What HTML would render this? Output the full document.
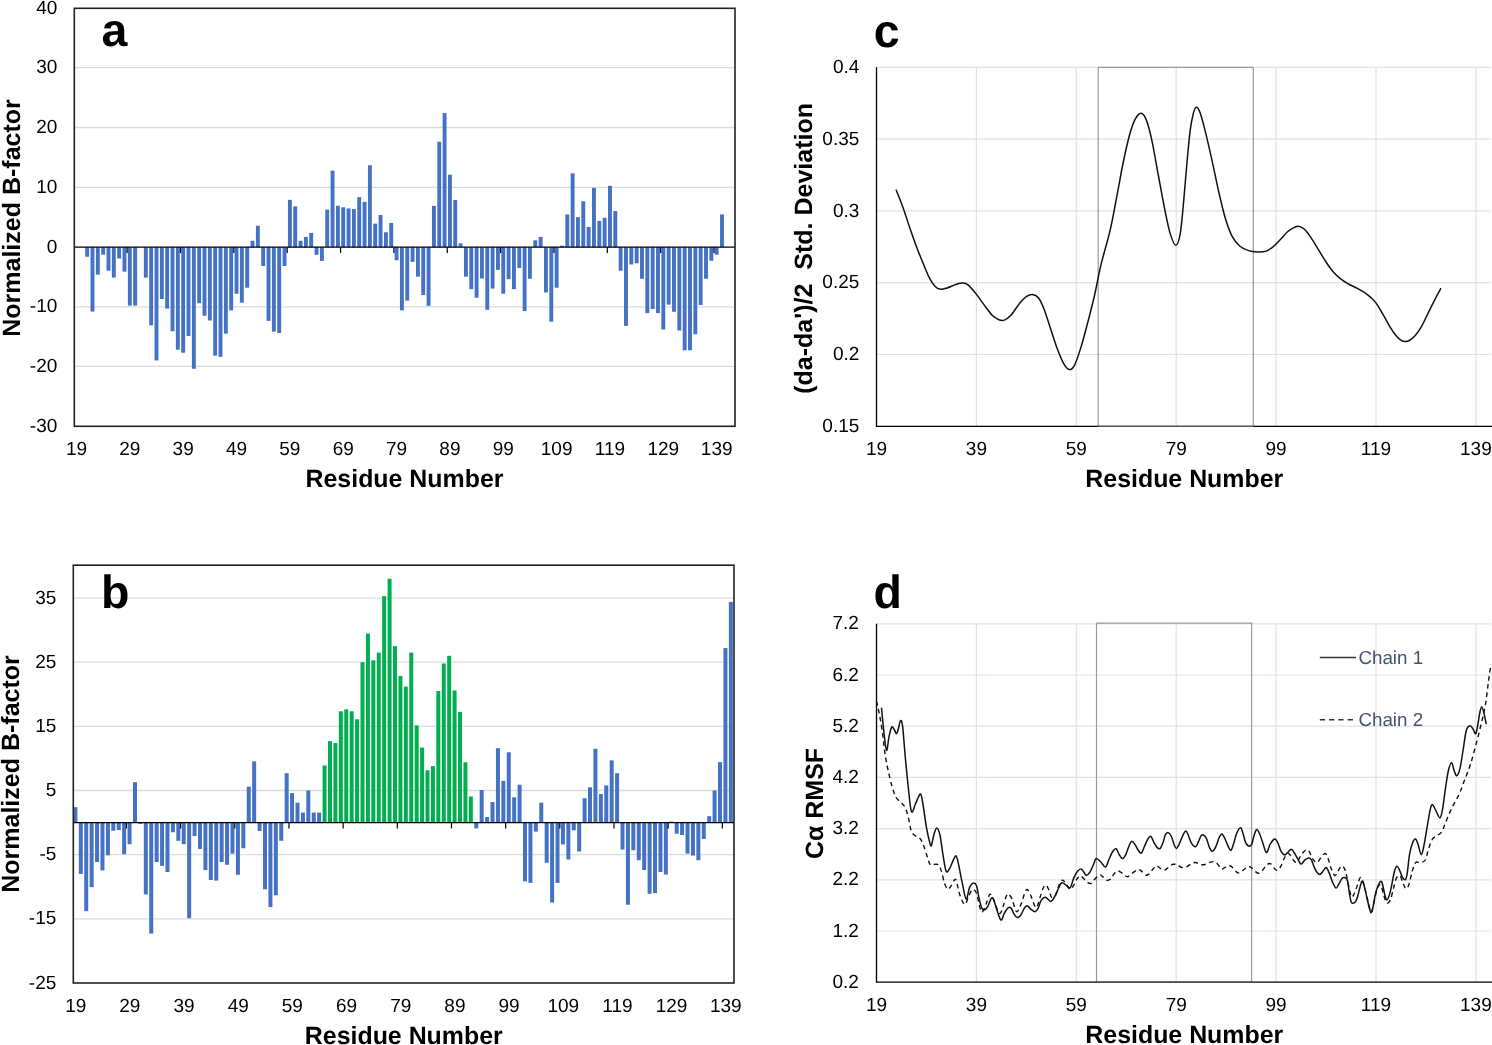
<!DOCTYPE html>
<html><head><meta charset="utf-8"><title>Figure</title>
<style>
html,body{margin:0;padding:0;background:#fff;}
body{width:1492px;height:1045px;overflow:hidden;font-family:'Liberation Sans', sans-serif;}
svg{display:block;will-change:transform;-webkit-font-smoothing:antialiased;text-rendering:geometricPrecision;font-family:'Liberation Sans', sans-serif;}
</style></head><body>
<svg width="1492" height="1045" viewBox="0 0 1492 1045">
<rect x="0" y="0" width="1492" height="1045" fill="#fff"/>
<line x1="74.3" y1="67.7" x2="735" y2="67.7" stroke="#DCDCDC" stroke-width="1.3"/>
<line x1="74.3" y1="127.5" x2="735" y2="127.5" stroke="#DCDCDC" stroke-width="1.3"/>
<line x1="74.3" y1="187.4" x2="735" y2="187.4" stroke="#DCDCDC" stroke-width="1.3"/>
<line x1="74.3" y1="306.8" x2="735" y2="306.8" stroke="#DCDCDC" stroke-width="1.3"/>
<line x1="74.3" y1="366.4" x2="735" y2="366.4" stroke="#DCDCDC" stroke-width="1.3"/>
<rect x="85.19" y="247.2" width="3.9" height="9.54" fill="#4472C4"/>
<rect x="90.52" y="247.2" width="3.9" height="64.37" fill="#4472C4"/>
<rect x="95.86" y="247.2" width="3.9" height="27.42" fill="#4472C4"/>
<rect x="101.19" y="247.2" width="3.9" height="7.45" fill="#4472C4"/>
<rect x="106.53" y="247.2" width="3.9" height="23.54" fill="#4472C4"/>
<rect x="111.86" y="247.2" width="3.9" height="30.4" fill="#4472C4"/>
<rect x="117.2" y="247.2" width="3.9" height="11.32" fill="#4472C4"/>
<rect x="122.53" y="247.2" width="3.9" height="24.44" fill="#4472C4"/>
<rect x="127.87" y="247.2" width="3.9" height="58.41" fill="#4472C4"/>
<rect x="133.2" y="247.2" width="3.9" height="58.41" fill="#4472C4"/>
<rect x="143.87" y="247.2" width="3.9" height="30.4" fill="#4472C4"/>
<rect x="149.21" y="247.2" width="3.9" height="78.08" fill="#4472C4"/>
<rect x="154.54" y="247.2" width="3.9" height="113.24" fill="#4472C4"/>
<rect x="159.88" y="247.2" width="3.9" height="51.85" fill="#4472C4"/>
<rect x="165.21" y="247.2" width="3.9" height="61.39" fill="#4472C4"/>
<rect x="170.55" y="247.2" width="3.9" height="84.04" fill="#4472C4"/>
<rect x="175.88" y="247.2" width="3.9" height="102.51" fill="#4472C4"/>
<rect x="181.22" y="247.2" width="3.9" height="105.49" fill="#4472C4"/>
<rect x="186.55" y="247.2" width="3.9" height="88.8" fill="#4472C4"/>
<rect x="191.89" y="247.2" width="3.9" height="121.58" fill="#4472C4"/>
<rect x="197.22" y="247.2" width="3.9" height="56.02" fill="#4472C4"/>
<rect x="202.56" y="247.2" width="3.9" height="68.54" fill="#4472C4"/>
<rect x="207.89" y="247.2" width="3.9" height="73.31" fill="#4472C4"/>
<rect x="213.23" y="247.2" width="3.9" height="108.47" fill="#4472C4"/>
<rect x="218.56" y="247.2" width="3.9" height="109.66" fill="#4472C4"/>
<rect x="223.9" y="247.2" width="3.9" height="86.42" fill="#4472C4"/>
<rect x="229.23" y="247.2" width="3.9" height="63.18" fill="#4472C4"/>
<rect x="234.57" y="247.2" width="3.9" height="46.49" fill="#4472C4"/>
<rect x="239.9" y="247.2" width="3.9" height="55.43" fill="#4472C4"/>
<rect x="245.24" y="247.2" width="3.9" height="40.53" fill="#4472C4"/>
<rect x="250.57" y="240.76" width="3.9" height="6.44" fill="#4472C4"/>
<rect x="255.91" y="225.74" width="3.9" height="21.46" fill="#4472C4"/>
<rect x="261.24" y="247.2" width="3.9" height="18.77" fill="#4472C4"/>
<rect x="266.58" y="247.2" width="3.9" height="73.67" fill="#4472C4"/>
<rect x="271.91" y="247.2" width="3.9" height="84.45" fill="#4472C4"/>
<rect x="277.25" y="247.2" width="3.9" height="85.82" fill="#4472C4"/>
<rect x="282.58" y="247.2" width="3.9" height="18.77" fill="#4472C4"/>
<rect x="287.92" y="199.82" width="3.9" height="47.38" fill="#4472C4"/>
<rect x="293.25" y="206.37" width="3.9" height="40.83" fill="#4472C4"/>
<rect x="298.59" y="240.76" width="3.9" height="6.44" fill="#4472C4"/>
<rect x="303.92" y="236.89" width="3.9" height="10.31" fill="#4472C4"/>
<rect x="309.26" y="232.9" width="3.9" height="14.3" fill="#4472C4"/>
<rect x="314.59" y="247.2" width="3.9" height="7.63" fill="#4472C4"/>
<rect x="319.93" y="247.2" width="3.9" height="13.71" fill="#4472C4"/>
<rect x="325.26" y="209.65" width="3.9" height="37.55" fill="#4472C4"/>
<rect x="330.6" y="170.61" width="3.9" height="76.59" fill="#4472C4"/>
<rect x="335.93" y="205.72" width="3.9" height="41.48" fill="#4472C4"/>
<rect x="341.27" y="207.27" width="3.9" height="39.93" fill="#4472C4"/>
<rect x="346.6" y="208.46" width="3.9" height="38.74" fill="#4472C4"/>
<rect x="351.94" y="209.06" width="3.9" height="38.14" fill="#4472C4"/>
<rect x="357.27" y="197.14" width="3.9" height="50.06" fill="#4472C4"/>
<rect x="362.61" y="201.9" width="3.9" height="45.3" fill="#4472C4"/>
<rect x="367.94" y="165.25" width="3.9" height="81.95" fill="#4472C4"/>
<rect x="373.28" y="223.66" width="3.9" height="23.54" fill="#4472C4"/>
<rect x="378.61" y="215.02" width="3.9" height="32.18" fill="#4472C4"/>
<rect x="383.95" y="232.3" width="3.9" height="14.9" fill="#4472C4"/>
<rect x="389.28" y="222.94" width="3.9" height="24.26" fill="#4472C4"/>
<rect x="394.62" y="247.2" width="3.9" height="13.11" fill="#4472C4"/>
<rect x="399.95" y="247.2" width="3.9" height="63.18" fill="#4472C4"/>
<rect x="405.29" y="247.2" width="3.9" height="53.4" fill="#4472C4"/>
<rect x="410.62" y="247.2" width="3.9" height="14.66" fill="#4472C4"/>
<rect x="415.96" y="247.2" width="3.9" height="29.44" fill="#4472C4"/>
<rect x="421.29" y="247.2" width="3.9" height="47.8" fill="#4472C4"/>
<rect x="426.63" y="247.2" width="3.9" height="58.59" fill="#4472C4"/>
<rect x="431.96" y="205.84" width="3.9" height="41.36" fill="#4472C4"/>
<rect x="437.3" y="141.71" width="3.9" height="105.49" fill="#4472C4"/>
<rect x="442.63" y="113.1" width="3.9" height="134.1" fill="#4472C4"/>
<rect x="447.97" y="174.67" width="3.9" height="72.53" fill="#4472C4"/>
<rect x="453.3" y="199.94" width="3.9" height="47.26" fill="#4472C4"/>
<rect x="458.64" y="243.33" width="3.9" height="3.87" fill="#4472C4"/>
<rect x="463.97" y="247.2" width="3.9" height="29.44" fill="#4472C4"/>
<rect x="469.31" y="247.2" width="3.9" height="41.96" fill="#4472C4"/>
<rect x="474.64" y="247.2" width="3.9" height="50.54" fill="#4472C4"/>
<rect x="479.98" y="247.2" width="3.9" height="31.29" fill="#4472C4"/>
<rect x="485.31" y="247.2" width="3.9" height="62.58" fill="#4472C4"/>
<rect x="490.65" y="247.2" width="3.9" height="41.36" fill="#4472C4"/>
<rect x="495.98" y="247.2" width="3.9" height="22.65" fill="#4472C4"/>
<rect x="501.32" y="247.2" width="3.9" height="46.49" fill="#4472C4"/>
<rect x="506.65" y="247.2" width="3.9" height="32.01" fill="#4472C4"/>
<rect x="511.99" y="247.2" width="3.9" height="41.96" fill="#4472C4"/>
<rect x="517.32" y="247.2" width="3.9" height="20.86" fill="#4472C4"/>
<rect x="522.66" y="247.2" width="3.9" height="63.77" fill="#4472C4"/>
<rect x="527.99" y="247.2" width="3.9" height="31.59" fill="#4472C4"/>
<rect x="533.33" y="240.29" width="3.9" height="6.91" fill="#4472C4"/>
<rect x="538.66" y="236.89" width="3.9" height="10.31" fill="#4472C4"/>
<rect x="544" y="247.2" width="3.9" height="45.3" fill="#4472C4"/>
<rect x="549.33" y="247.2" width="3.9" height="74.5" fill="#4472C4"/>
<rect x="554.67" y="247.2" width="3.9" height="40.53" fill="#4472C4"/>
<rect x="560" y="245.71" width="3.9" height="1.49" fill="#4472C4"/>
<rect x="565.34" y="214.42" width="3.9" height="32.78" fill="#4472C4"/>
<rect x="570.67" y="173.3" width="3.9" height="73.9" fill="#4472C4"/>
<rect x="576.01" y="217.16" width="3.9" height="30.04" fill="#4472C4"/>
<rect x="581.34" y="201.31" width="3.9" height="45.89" fill="#4472C4"/>
<rect x="586.68" y="226.94" width="3.9" height="20.26" fill="#4472C4"/>
<rect x="592.01" y="187.9" width="3.9" height="59.3" fill="#4472C4"/>
<rect x="597.35" y="220.98" width="3.9" height="26.22" fill="#4472C4"/>
<rect x="602.68" y="217.76" width="3.9" height="29.44" fill="#4472C4"/>
<rect x="608.02" y="185.81" width="3.9" height="61.39" fill="#4472C4"/>
<rect x="613.35" y="211.02" width="3.9" height="36.18" fill="#4472C4"/>
<rect x="618.69" y="247.2" width="3.9" height="23.54" fill="#4472C4"/>
<rect x="624.02" y="247.2" width="3.9" height="78.67" fill="#4472C4"/>
<rect x="629.36" y="247.2" width="3.9" height="17.28" fill="#4472C4"/>
<rect x="634.69" y="247.2" width="3.9" height="16.09" fill="#4472C4"/>
<rect x="640.03" y="247.2" width="3.9" height="31.59" fill="#4472C4"/>
<rect x="645.36" y="247.2" width="3.9" height="65.92" fill="#4472C4"/>
<rect x="650.7" y="247.2" width="3.9" height="61.75" fill="#4472C4"/>
<rect x="656.03" y="247.2" width="3.9" height="65.92" fill="#4472C4"/>
<rect x="661.37" y="247.2" width="3.9" height="82.25" fill="#4472C4"/>
<rect x="666.7" y="247.2" width="3.9" height="57.45" fill="#4472C4"/>
<rect x="672.04" y="247.2" width="3.9" height="64.61" fill="#4472C4"/>
<rect x="677.37" y="247.2" width="3.9" height="83.32" fill="#4472C4"/>
<rect x="682.71" y="247.2" width="3.9" height="103.11" fill="#4472C4"/>
<rect x="688.04" y="247.2" width="3.9" height="103.11" fill="#4472C4"/>
<rect x="693.38" y="247.2" width="3.9" height="87.02" fill="#4472C4"/>
<rect x="698.71" y="247.2" width="3.9" height="57.81" fill="#4472C4"/>
<rect x="704.05" y="247.2" width="3.9" height="31.59" fill="#4472C4"/>
<rect x="709.38" y="247.2" width="3.9" height="13.53" fill="#4472C4"/>
<rect x="714.72" y="247.2" width="3.9" height="7.45" fill="#4472C4"/>
<rect x="720.05" y="214.42" width="3.9" height="32.78" fill="#4472C4"/>
<line x1="74.3" y1="247.2" x2="735" y2="247.2" stroke="#000" stroke-width="1.3"/>
<line x1="127.15" y1="247.2" x2="127.15" y2="253" stroke="#000" stroke-width="1.2"/>
<line x1="180.5" y1="247.2" x2="180.5" y2="253" stroke="#000" stroke-width="1.2"/>
<line x1="233.85" y1="247.2" x2="233.85" y2="253" stroke="#000" stroke-width="1.2"/>
<line x1="287.2" y1="247.2" x2="287.2" y2="253" stroke="#000" stroke-width="1.2"/>
<line x1="340.55" y1="247.2" x2="340.55" y2="253" stroke="#000" stroke-width="1.2"/>
<line x1="393.9" y1="247.2" x2="393.9" y2="253" stroke="#000" stroke-width="1.2"/>
<line x1="447.25" y1="247.2" x2="447.25" y2="253" stroke="#000" stroke-width="1.2"/>
<line x1="500.6" y1="247.2" x2="500.6" y2="253" stroke="#000" stroke-width="1.2"/>
<line x1="553.95" y1="247.2" x2="553.95" y2="253" stroke="#000" stroke-width="1.2"/>
<line x1="607.3" y1="247.2" x2="607.3" y2="253" stroke="#000" stroke-width="1.2"/>
<line x1="660.65" y1="247.2" x2="660.65" y2="253" stroke="#000" stroke-width="1.2"/>
<line x1="714" y1="247.2" x2="714" y2="253" stroke="#000" stroke-width="1.2"/>
<rect x="74.3" y="8.3" width="660.7" height="418" fill="none" stroke="#222" stroke-width="1.6"/>
<text x="57.3" y="13.9" font-size="19" text-anchor="end" font-weight="normal" fill="#000" >40</text>
<text x="57.3" y="73.3" font-size="19" text-anchor="end" font-weight="normal" fill="#000" >30</text>
<text x="57.3" y="133.1" font-size="19" text-anchor="end" font-weight="normal" fill="#000" >20</text>
<text x="57.3" y="193" font-size="19" text-anchor="end" font-weight="normal" fill="#000" >10</text>
<text x="57.3" y="252.8" font-size="19" text-anchor="end" font-weight="normal" fill="#000" >0</text>
<text x="57.3" y="312.4" font-size="19" text-anchor="end" font-weight="normal" fill="#000" >-10</text>
<text x="57.3" y="372" font-size="19" text-anchor="end" font-weight="normal" fill="#000" >-20</text>
<text x="57.3" y="431.9" font-size="19" text-anchor="end" font-weight="normal" fill="#000" >-30</text>
<text x="76.47" y="454.8" font-size="19" text-anchor="middle" font-weight="normal" fill="#000" >19</text>
<text x="129.82" y="454.8" font-size="19" text-anchor="middle" font-weight="normal" fill="#000" >29</text>
<text x="183.17" y="454.8" font-size="19" text-anchor="middle" font-weight="normal" fill="#000" >39</text>
<text x="236.52" y="454.8" font-size="19" text-anchor="middle" font-weight="normal" fill="#000" >49</text>
<text x="289.87" y="454.8" font-size="19" text-anchor="middle" font-weight="normal" fill="#000" >59</text>
<text x="343.22" y="454.8" font-size="19" text-anchor="middle" font-weight="normal" fill="#000" >69</text>
<text x="396.57" y="454.8" font-size="19" text-anchor="middle" font-weight="normal" fill="#000" >79</text>
<text x="449.92" y="454.8" font-size="19" text-anchor="middle" font-weight="normal" fill="#000" >89</text>
<text x="503.27" y="454.8" font-size="19" text-anchor="middle" font-weight="normal" fill="#000" >99</text>
<text x="556.62" y="454.8" font-size="19" text-anchor="middle" font-weight="normal" fill="#000" >109</text>
<text x="609.97" y="454.8" font-size="19" text-anchor="middle" font-weight="normal" fill="#000" >119</text>
<text x="663.32" y="454.8" font-size="19" text-anchor="middle" font-weight="normal" fill="#000" >129</text>
<text x="716.67" y="454.8" font-size="19" text-anchor="middle" font-weight="normal" fill="#000" >139</text>
<text x="404.5" y="486.6" font-size="24.92" text-anchor="middle" font-weight="bold" fill="#000" >Residue Number</text>
<text transform="translate(20.4,218) rotate(-90)" font-size="25.0" text-anchor="middle" font-weight="bold" xml:space="preserve" style="white-space:pre">Normalized B-factor</text>
<text x="101.5" y="46" font-size="46.5" text-anchor="start" font-weight="bold" fill="#000" >a</text>
<line x1="73.3" y1="598.04" x2="734" y2="598.04" stroke="#DCDCDC" stroke-width="1.3"/>
<line x1="73.3" y1="662.2" x2="734" y2="662.2" stroke="#DCDCDC" stroke-width="1.3"/>
<line x1="73.3" y1="726.36" x2="734" y2="726.36" stroke="#DCDCDC" stroke-width="1.3"/>
<line x1="73.3" y1="790.52" x2="734" y2="790.52" stroke="#DCDCDC" stroke-width="1.3"/>
<line x1="73.3" y1="854.68" x2="734" y2="854.68" stroke="#DCDCDC" stroke-width="1.3"/>
<line x1="73.3" y1="918.84" x2="734" y2="918.84" stroke="#DCDCDC" stroke-width="1.3"/>
<rect x="73.4" y="807.2" width="4" height="15.4" fill="#4472C4"/>
<rect x="78.82" y="822.6" width="4" height="51.33" fill="#4472C4"/>
<rect x="84.23" y="822.6" width="4" height="88.54" fill="#4472C4"/>
<rect x="89.65" y="822.6" width="4" height="64.54" fill="#4472C4"/>
<rect x="95.07" y="822.6" width="4" height="39.46" fill="#4472C4"/>
<rect x="100.49" y="822.6" width="4" height="47.8" fill="#4472C4"/>
<rect x="105.9" y="822.6" width="4" height="32.72" fill="#4472C4"/>
<rect x="111.32" y="822.6" width="4" height="8.15" fill="#4472C4"/>
<rect x="116.74" y="822.6" width="4" height="7.44" fill="#4472C4"/>
<rect x="122.15" y="822.6" width="4" height="31.63" fill="#4472C4"/>
<rect x="127.57" y="822.6" width="4" height="21.62" fill="#4472C4"/>
<rect x="132.99" y="782.18" width="4" height="40.42" fill="#4472C4"/>
<rect x="138.4" y="822.6" width="4" height="1.28" fill="#4472C4"/>
<rect x="143.82" y="822.6" width="4" height="71.86" fill="#4472C4"/>
<rect x="149.24" y="822.6" width="4" height="111" fill="#4472C4"/>
<rect x="154.66" y="822.6" width="4" height="39.46" fill="#4472C4"/>
<rect x="160.07" y="822.6" width="4" height="43.24" fill="#4472C4"/>
<rect x="165.49" y="822.6" width="4" height="49.4" fill="#4472C4"/>
<rect x="170.91" y="822.6" width="4" height="9.62" fill="#4472C4"/>
<rect x="176.32" y="822.6" width="4" height="18.16" fill="#4472C4"/>
<rect x="181.74" y="822.6" width="4" height="21.62" fill="#4472C4"/>
<rect x="187.16" y="822.6" width="4" height="95.6" fill="#4472C4"/>
<rect x="192.57" y="822.6" width="4" height="13.47" fill="#4472C4"/>
<rect x="197.99" y="822.6" width="4" height="26.31" fill="#4472C4"/>
<rect x="203.41" y="822.6" width="4" height="47.48" fill="#4472C4"/>
<rect x="208.82" y="822.6" width="4" height="57.42" fill="#4472C4"/>
<rect x="214.24" y="822.6" width="4" height="58" fill="#4472C4"/>
<rect x="219.66" y="822.6" width="4" height="39.46" fill="#4472C4"/>
<rect x="225.08" y="822.6" width="4" height="42.15" fill="#4472C4"/>
<rect x="230.49" y="822.6" width="4" height="31.05" fill="#4472C4"/>
<rect x="235.91" y="822.6" width="4" height="52.16" fill="#4472C4"/>
<rect x="241.33" y="822.6" width="4" height="25.66" fill="#4472C4"/>
<rect x="246.74" y="786.67" width="4" height="35.93" fill="#4472C4"/>
<rect x="252.16" y="761.33" width="4" height="61.27" fill="#4472C4"/>
<rect x="257.58" y="822.6" width="4" height="8.34" fill="#4472C4"/>
<rect x="263" y="822.6" width="4" height="66.73" fill="#4472C4"/>
<rect x="268.41" y="822.6" width="4" height="84.5" fill="#4472C4"/>
<rect x="273.83" y="822.6" width="4" height="72.69" fill="#4472C4"/>
<rect x="279.25" y="822.6" width="4" height="18.16" fill="#4472C4"/>
<rect x="284.66" y="773.2" width="4" height="49.4" fill="#4472C4"/>
<rect x="290.08" y="793.09" width="4" height="29.51" fill="#4472C4"/>
<rect x="295.5" y="802.71" width="4" height="19.89" fill="#4472C4"/>
<rect x="300.91" y="812.59" width="4" height="10.01" fill="#4472C4"/>
<rect x="306.33" y="790.52" width="4" height="32.08" fill="#4472C4"/>
<rect x="311.75" y="812.59" width="4" height="10.01" fill="#4472C4"/>
<rect x="317.16" y="812.59" width="4" height="10.01" fill="#4472C4"/>
<rect x="322.58" y="765.5" width="4" height="57.1" fill="#00B050"/>
<rect x="328" y="741.12" width="4" height="81.48" fill="#00B050"/>
<rect x="333.42" y="743.04" width="4" height="79.56" fill="#00B050"/>
<rect x="338.83" y="711.28" width="4" height="111.32" fill="#00B050"/>
<rect x="344.25" y="709.36" width="4" height="113.24" fill="#00B050"/>
<rect x="349.67" y="711.28" width="4" height="111.32" fill="#00B050"/>
<rect x="355.08" y="719.3" width="4" height="103.3" fill="#00B050"/>
<rect x="360.5" y="662.2" width="4" height="160.4" fill="#00B050"/>
<rect x="365.92" y="633.65" width="4" height="188.95" fill="#00B050"/>
<rect x="371.34" y="660.28" width="4" height="162.32" fill="#00B050"/>
<rect x="376.75" y="652.58" width="4" height="170.02" fill="#00B050"/>
<rect x="382.17" y="596.12" width="4" height="226.48" fill="#00B050"/>
<rect x="387.59" y="578.79" width="4" height="243.81" fill="#00B050"/>
<rect x="393" y="646.16" width="4" height="176.44" fill="#00B050"/>
<rect x="398.42" y="675.99" width="4" height="146.61" fill="#00B050"/>
<rect x="403.84" y="686.58" width="4" height="136.02" fill="#00B050"/>
<rect x="409.25" y="652.58" width="4" height="170.02" fill="#00B050"/>
<rect x="414.67" y="725.4" width="4" height="97.2" fill="#00B050"/>
<rect x="420.09" y="747.53" width="4" height="75.07" fill="#00B050"/>
<rect x="425.5" y="770.31" width="4" height="52.29" fill="#00B050"/>
<rect x="430.92" y="766.14" width="4" height="56.46" fill="#00B050"/>
<rect x="436.34" y="691.07" width="4" height="131.53" fill="#00B050"/>
<rect x="441.76" y="663.48" width="4" height="159.12" fill="#00B050"/>
<rect x="447.17" y="655.78" width="4" height="166.82" fill="#00B050"/>
<rect x="452.59" y="690.43" width="4" height="132.17" fill="#00B050"/>
<rect x="458.01" y="711.92" width="4" height="110.68" fill="#00B050"/>
<rect x="463.42" y="762.29" width="4" height="60.31" fill="#00B050"/>
<rect x="468.84" y="796.49" width="4" height="26.11" fill="#00B050"/>
<rect x="474.26" y="822.6" width="4" height="5.77" fill="#4472C4"/>
<rect x="479.67" y="790.01" width="4" height="32.59" fill="#4472C4"/>
<rect x="485.09" y="817.02" width="4" height="5.58" fill="#4472C4"/>
<rect x="490.51" y="802.07" width="4" height="20.53" fill="#4472C4"/>
<rect x="495.93" y="748.17" width="4" height="74.43" fill="#4472C4"/>
<rect x="501.34" y="780.9" width="4" height="41.7" fill="#4472C4"/>
<rect x="506.76" y="752.28" width="4" height="70.32" fill="#4472C4"/>
<rect x="512.18" y="797.32" width="4" height="25.28" fill="#4472C4"/>
<rect x="517.59" y="784.75" width="4" height="37.85" fill="#4472C4"/>
<rect x="523.01" y="822.6" width="4" height="58.71" fill="#4472C4"/>
<rect x="528.43" y="822.6" width="4" height="60.31" fill="#4472C4"/>
<rect x="533.85" y="822.6" width="4" height="8.98" fill="#4472C4"/>
<rect x="539.26" y="802.71" width="4" height="19.89" fill="#4472C4"/>
<rect x="544.68" y="822.6" width="4" height="40.16" fill="#4472C4"/>
<rect x="550.1" y="822.6" width="4" height="79.94" fill="#4472C4"/>
<rect x="555.51" y="822.6" width="4" height="60.31" fill="#4472C4"/>
<rect x="560.93" y="822.6" width="4" height="21.81" fill="#4472C4"/>
<rect x="566.35" y="822.6" width="4" height="36.89" fill="#4472C4"/>
<rect x="571.76" y="822.6" width="4" height="7.7" fill="#4472C4"/>
<rect x="577.18" y="822.6" width="4" height="28.87" fill="#4472C4"/>
<rect x="582.6" y="798.22" width="4" height="24.38" fill="#4472C4"/>
<rect x="588.01" y="787.31" width="4" height="35.29" fill="#4472C4"/>
<rect x="593.43" y="748.82" width="4" height="73.78" fill="#4472C4"/>
<rect x="598.85" y="794.05" width="4" height="28.55" fill="#4472C4"/>
<rect x="604.27" y="785.39" width="4" height="37.21" fill="#4472C4"/>
<rect x="609.68" y="760.36" width="4" height="62.24" fill="#4472C4"/>
<rect x="615.1" y="773.2" width="4" height="49.4" fill="#4472C4"/>
<rect x="620.52" y="822.6" width="4" height="26.95" fill="#4472C4"/>
<rect x="625.93" y="822.6" width="4" height="82.12" fill="#4472C4"/>
<rect x="631.35" y="822.6" width="4" height="27.59" fill="#4472C4"/>
<rect x="636.77" y="822.6" width="4" height="37.6" fill="#4472C4"/>
<rect x="642.18" y="822.6" width="4" height="47.48" fill="#4472C4"/>
<rect x="647.6" y="822.6" width="4" height="71.22" fill="#4472C4"/>
<rect x="653.02" y="822.6" width="4" height="70.58" fill="#4472C4"/>
<rect x="658.44" y="822.6" width="4" height="49.4" fill="#4472C4"/>
<rect x="663.85" y="822.6" width="4" height="51.97" fill="#4472C4"/>
<rect x="669.27" y="821.64" width="4" height="0.96" fill="#4472C4"/>
<rect x="674.69" y="822.6" width="4" height="11.1" fill="#4472C4"/>
<rect x="680.1" y="822.6" width="4" height="12.38" fill="#4472C4"/>
<rect x="685.52" y="822.6" width="4" height="31.05" fill="#4472C4"/>
<rect x="690.94" y="822.6" width="4" height="32.91" fill="#4472C4"/>
<rect x="696.35" y="822.6" width="4" height="37.6" fill="#4472C4"/>
<rect x="701.77" y="822.6" width="4" height="16.36" fill="#4472C4"/>
<rect x="707.19" y="816.18" width="4" height="6.42" fill="#4472C4"/>
<rect x="712.61" y="790.52" width="4" height="32.08" fill="#4472C4"/>
<rect x="718.02" y="762.1" width="4" height="60.5" fill="#4472C4"/>
<rect x="723.44" y="648.08" width="4" height="174.52" fill="#4472C4"/>
<rect x="728.86" y="601.89" width="4" height="220.71" fill="#4472C4"/>
<line x1="73.3" y1="822.6" x2="734" y2="822.6" stroke="#000" stroke-width="1.3"/>
<line x1="126.46" y1="822.6" x2="126.46" y2="828.4" stroke="#000" stroke-width="1.2"/>
<line x1="180.63" y1="822.6" x2="180.63" y2="828.4" stroke="#000" stroke-width="1.2"/>
<line x1="234.8" y1="822.6" x2="234.8" y2="828.4" stroke="#000" stroke-width="1.2"/>
<line x1="288.97" y1="822.6" x2="288.97" y2="828.4" stroke="#000" stroke-width="1.2"/>
<line x1="343.14" y1="822.6" x2="343.14" y2="828.4" stroke="#000" stroke-width="1.2"/>
<line x1="397.31" y1="822.6" x2="397.31" y2="828.4" stroke="#000" stroke-width="1.2"/>
<line x1="451.48" y1="822.6" x2="451.48" y2="828.4" stroke="#000" stroke-width="1.2"/>
<line x1="505.65" y1="822.6" x2="505.65" y2="828.4" stroke="#000" stroke-width="1.2"/>
<line x1="559.82" y1="822.6" x2="559.82" y2="828.4" stroke="#000" stroke-width="1.2"/>
<line x1="613.99" y1="822.6" x2="613.99" y2="828.4" stroke="#000" stroke-width="1.2"/>
<line x1="668.16" y1="822.6" x2="668.16" y2="828.4" stroke="#000" stroke-width="1.2"/>
<line x1="722.33" y1="822.6" x2="722.33" y2="828.4" stroke="#000" stroke-width="1.2"/>
<rect x="73.3" y="565.2" width="660.7" height="417.8" fill="none" stroke="#222" stroke-width="1.6"/>
<text x="56.3" y="603.64" font-size="19" text-anchor="end" font-weight="normal" fill="#000" >35</text>
<text x="56.3" y="667.8" font-size="19" text-anchor="end" font-weight="normal" fill="#000" >25</text>
<text x="56.3" y="731.96" font-size="19" text-anchor="end" font-weight="normal" fill="#000" >15</text>
<text x="56.3" y="796.12" font-size="19" text-anchor="end" font-weight="normal" fill="#000" >5</text>
<text x="56.3" y="860.28" font-size="19" text-anchor="end" font-weight="normal" fill="#000" >-5</text>
<text x="56.3" y="924.44" font-size="19" text-anchor="end" font-weight="normal" fill="#000" >-15</text>
<text x="56.3" y="988.6" font-size="19" text-anchor="end" font-weight="normal" fill="#000" >-25</text>
<text x="75.7" y="1012" font-size="19" text-anchor="middle" font-weight="normal" fill="#000" >19</text>
<text x="129.87" y="1012" font-size="19" text-anchor="middle" font-weight="normal" fill="#000" >29</text>
<text x="184.04" y="1012" font-size="19" text-anchor="middle" font-weight="normal" fill="#000" >39</text>
<text x="238.21" y="1012" font-size="19" text-anchor="middle" font-weight="normal" fill="#000" >49</text>
<text x="292.38" y="1012" font-size="19" text-anchor="middle" font-weight="normal" fill="#000" >59</text>
<text x="346.55" y="1012" font-size="19" text-anchor="middle" font-weight="normal" fill="#000" >69</text>
<text x="400.72" y="1012" font-size="19" text-anchor="middle" font-weight="normal" fill="#000" >79</text>
<text x="454.89" y="1012" font-size="19" text-anchor="middle" font-weight="normal" fill="#000" >89</text>
<text x="509.06" y="1012" font-size="19" text-anchor="middle" font-weight="normal" fill="#000" >99</text>
<text x="563.23" y="1012" font-size="19" text-anchor="middle" font-weight="normal" fill="#000" >109</text>
<text x="617.4" y="1012" font-size="19" text-anchor="middle" font-weight="normal" fill="#000" >119</text>
<text x="671.57" y="1012" font-size="19" text-anchor="middle" font-weight="normal" fill="#000" >129</text>
<text x="725.74" y="1012" font-size="19" text-anchor="middle" font-weight="normal" fill="#000" >139</text>
<text x="403.8" y="1044" font-size="24.92" text-anchor="middle" font-weight="bold" fill="#000" >Residue Number</text>
<text transform="translate(19,774) rotate(-90)" font-size="25.0" text-anchor="middle" font-weight="bold" xml:space="preserve" style="white-space:pre">Normalized B-factor</text>
<text x="101" y="608.3" font-size="46.5" text-anchor="start" font-weight="bold" fill="#000" >b</text>
<line x1="876.5" y1="67.3" x2="1491" y2="67.3" stroke="#DCE1EC" stroke-width="1.2"/>
<line x1="876.5" y1="139.1" x2="1491" y2="139.1" stroke="#DCE1EC" stroke-width="1.2"/>
<line x1="876.5" y1="210.9" x2="1491" y2="210.9" stroke="#DCE1EC" stroke-width="1.2"/>
<line x1="876.5" y1="282.7" x2="1491" y2="282.7" stroke="#DCE1EC" stroke-width="1.2"/>
<line x1="876.5" y1="354.5" x2="1491" y2="354.5" stroke="#DCE1EC" stroke-width="1.2"/>
<line x1="976.4" y1="67.3" x2="976.4" y2="426.4" stroke="#DCE1EC" stroke-width="1.2"/>
<line x1="1076.3" y1="67.3" x2="1076.3" y2="426.4" stroke="#DCE1EC" stroke-width="1.2"/>
<line x1="1176.2" y1="67.3" x2="1176.2" y2="426.4" stroke="#DCE1EC" stroke-width="1.2"/>
<line x1="1276.1" y1="67.3" x2="1276.1" y2="426.4" stroke="#DCE1EC" stroke-width="1.2"/>
<line x1="1376" y1="67.3" x2="1376" y2="426.4" stroke="#DCE1EC" stroke-width="1.2"/>
<line x1="1475.9" y1="67.3" x2="1475.9" y2="426.4" stroke="#DCE1EC" stroke-width="1.2"/>
<path d="M1098.2,426.4V67.3H1253.3V426.4" fill="none" stroke="#9a9a9a" stroke-width="1.2"/>
<line x1="876.5" y1="67.3" x2="876.5" y2="426.4" stroke="#000" stroke-width="1.3"/>
<line x1="875.9" y1="426.4" x2="1492" y2="426.4" stroke="#000" stroke-width="1.3"/>
<line x1="1097.6" y1="426.4" x2="1253.9" y2="426.4" stroke="#555" stroke-width="1.4"/>
<path d="M896,189.4C897.17,192.4 900.73,201.1 903,207.4C905.27,213.7 907.4,220.78 909.6,227.2C911.8,233.62 914,240.02 916.2,245.9C918.4,251.78 920.6,257.17 922.8,262.5C925,267.83 927.38,273.95 929.4,277.9C931.42,281.85 933.07,284.3 934.9,286.2C936.73,288.1 938.38,289 940.4,289.3C942.42,289.6 944.43,288.8 947,288C949.57,287.2 953.22,285.32 955.8,284.5C958.38,283.68 960.47,283.03 962.5,283.1C964.53,283.17 965.67,283.02 968,284.9C970.33,286.78 973.75,290.98 976.5,294.4C979.25,297.82 981.88,301.92 984.5,305.4C987.12,308.88 989.82,312.92 992.2,315.3C994.58,317.68 996.78,318.9 998.8,319.7C1000.82,320.5 1002.28,320.83 1004.3,320.1C1006.32,319.37 1008.33,318.12 1010.9,315.3C1013.47,312.48 1017.13,306.32 1019.7,303.2C1022.27,300.08 1024.18,298.07 1026.3,296.6C1028.42,295.13 1030.38,294.22 1032.4,294.4C1034.42,294.58 1036.48,295.32 1038.4,297.7C1040.32,300.08 1041.88,303.57 1043.9,308.7C1045.92,313.83 1048.3,321.9 1050.5,328.5C1052.7,335.1 1054.9,342.43 1057.1,348.3C1059.3,354.17 1061.68,360.15 1063.7,363.7C1065.72,367.25 1067.37,369.42 1069.2,369.6C1071.03,369.78 1072.68,368.72 1074.7,364.8C1076.72,360.88 1079.1,353.25 1081.3,346.1C1083.5,338.95 1085.7,330.33 1087.9,321.9C1090.1,313.47 1092.32,305.03 1094.5,295.5C1096.68,285.97 1098.45,275.33 1101,264.7C1103.55,254.07 1107.23,242.7 1109.8,231.7C1112.37,220.7 1114.2,210.07 1116.4,198.7C1118.6,187.33 1120.8,174.15 1123,163.5C1125.2,152.85 1127.58,142.15 1129.6,134.8C1131.62,127.45 1133.18,122.98 1135.1,119.4C1137.02,115.82 1139.27,113.3 1141.1,113.3C1142.93,113.3 1144.35,115.08 1146.1,119.4C1147.85,123.72 1149.58,130.02 1151.6,139.2C1153.62,148.38 1156,162.75 1158.2,174.5C1160.4,186.25 1162.78,199.8 1164.8,209.7C1166.82,219.6 1168.47,227.97 1170.3,233.9C1172.13,239.83 1174.15,245.3 1175.8,245.3C1177.45,245.3 1178.92,240.93 1180.2,233.9C1181.48,226.87 1182.38,214.83 1183.5,203.1C1184.62,191.37 1185.78,175.62 1186.9,163.5C1188.02,151.38 1189.1,138.85 1190.2,130.4C1191.3,121.95 1192.48,116.65 1193.5,112.8C1194.52,108.95 1195.2,107.3 1196.3,107.3C1197.4,107.3 1198.55,108.58 1200.1,112.8C1201.65,117.02 1203.58,124.52 1205.6,132.6C1207.62,140.68 1210,151.38 1212.2,161.3C1214.4,171.22 1216.6,182.57 1218.8,192.1C1221,201.63 1223.2,211.17 1225.4,218.5C1227.6,225.83 1229.62,231.52 1232,236.1C1234.38,240.68 1236.95,243.58 1239.7,246C1242.45,248.42 1245.57,249.62 1248.5,250.6C1251.43,251.58 1254.37,251.82 1257.3,251.9C1260.23,251.98 1263.53,251.9 1266.1,251.1C1268.67,250.3 1270.32,249.05 1272.7,247.1C1275.08,245.15 1277.83,242.03 1280.4,239.4C1282.97,236.77 1285.72,233.32 1288.1,231.3C1290.48,229.28 1292.97,228.13 1294.7,227.3C1296.43,226.47 1297.28,226.25 1298.5,226.3C1299.72,226.35 1300.83,226.93 1302,227.6C1303.17,228.27 1304,228.62 1305.5,230.3C1307,231.98 1308.85,234.48 1311,237.7C1313.15,240.92 1315.95,245.63 1318.4,249.6C1320.85,253.57 1323.25,257.82 1325.7,261.5C1328.15,265.18 1330.65,268.85 1333.1,271.7C1335.55,274.55 1337.95,276.62 1340.4,278.6C1342.85,280.58 1345.03,282 1347.8,283.6C1350.57,285.2 1354.25,286.73 1357,288.2C1359.75,289.67 1362.02,290.87 1364.3,292.4C1366.58,293.93 1368.77,295.65 1370.7,297.4C1372.63,299.15 1373.9,300.15 1375.9,302.9C1377.9,305.65 1380.35,309.92 1382.7,313.9C1385.05,317.88 1387.87,323.28 1390,326.8C1392.13,330.32 1393.82,332.87 1395.5,335C1397.18,337.13 1398.57,338.52 1400.1,339.6C1401.63,340.68 1403.17,341.35 1404.7,341.5C1406.23,341.65 1407.62,341.42 1409.3,340.5C1410.98,339.58 1412.8,338.28 1414.8,336C1416.8,333.72 1419,330.78 1421.3,326.8C1423.6,322.82 1426.15,317 1428.6,312.1C1431.05,307.2 1433.95,301.38 1436,297.4C1438.05,293.42 1440.08,289.73 1440.9,288.2" fill="none" stroke="#111" stroke-width="1.5" stroke-linejoin="round"/>
<text x="859.3" y="72.9" font-size="19" text-anchor="end" font-weight="normal" fill="#000" >0.4</text>
<text x="859.3" y="144.7" font-size="19" text-anchor="end" font-weight="normal" fill="#000" >0.35</text>
<text x="859.3" y="216.5" font-size="19" text-anchor="end" font-weight="normal" fill="#000" >0.3</text>
<text x="859.3" y="288.3" font-size="19" text-anchor="end" font-weight="normal" fill="#000" >0.25</text>
<text x="859.3" y="360.1" font-size="19" text-anchor="end" font-weight="normal" fill="#000" >0.2</text>
<text x="859.3" y="431.9" font-size="19" text-anchor="end" font-weight="normal" fill="#000" >0.15</text>
<text x="876.5" y="454.9" font-size="19" text-anchor="middle" font-weight="normal" fill="#000" >19</text>
<text x="976.4" y="454.9" font-size="19" text-anchor="middle" font-weight="normal" fill="#000" >39</text>
<text x="1076.3" y="454.9" font-size="19" text-anchor="middle" font-weight="normal" fill="#000" >59</text>
<text x="1176.2" y="454.9" font-size="19" text-anchor="middle" font-weight="normal" fill="#000" >79</text>
<text x="1276.1" y="454.9" font-size="19" text-anchor="middle" font-weight="normal" fill="#000" >99</text>
<text x="1376" y="454.9" font-size="19" text-anchor="middle" font-weight="normal" fill="#000" >119</text>
<text x="1475.9" y="454.9" font-size="19" text-anchor="middle" font-weight="normal" fill="#000" >139</text>
<text x="1184.3" y="486.9" font-size="24.92" text-anchor="middle" font-weight="bold" fill="#000" >Residue Number</text>
<text transform="translate(811.9,248.4) rotate(-90)" font-size="25.0" text-anchor="middle" font-weight="bold" xml:space="preserve" style="white-space:pre">(da-da')/2  Std. Deviation</text>
<text x="873.8" y="46.9" font-size="46.5" text-anchor="start" font-weight="bold" fill="#000" >c</text>
<line x1="876.5" y1="623.8" x2="1491" y2="623.8" stroke="#DCE1EC" stroke-width="1.2"/>
<line x1="876.5" y1="675" x2="1491" y2="675" stroke="#DCE1EC" stroke-width="1.2"/>
<line x1="876.5" y1="726.2" x2="1491" y2="726.2" stroke="#DCE1EC" stroke-width="1.2"/>
<line x1="876.5" y1="777.4" x2="1491" y2="777.4" stroke="#DCE1EC" stroke-width="1.2"/>
<line x1="876.5" y1="828.6" x2="1491" y2="828.6" stroke="#DCE1EC" stroke-width="1.2"/>
<line x1="876.5" y1="879.8" x2="1491" y2="879.8" stroke="#DCE1EC" stroke-width="1.2"/>
<line x1="876.5" y1="931" x2="1491" y2="931" stroke="#DCE1EC" stroke-width="1.2"/>
<line x1="976.4" y1="623.8" x2="976.4" y2="982.1" stroke="#DCE1EC" stroke-width="1.2"/>
<line x1="1076.3" y1="623.8" x2="1076.3" y2="982.1" stroke="#DCE1EC" stroke-width="1.2"/>
<line x1="1176.2" y1="623.8" x2="1176.2" y2="982.1" stroke="#DCE1EC" stroke-width="1.2"/>
<line x1="1276.1" y1="623.8" x2="1276.1" y2="982.1" stroke="#DCE1EC" stroke-width="1.2"/>
<line x1="1376" y1="623.8" x2="1376" y2="982.1" stroke="#DCE1EC" stroke-width="1.2"/>
<line x1="1475.9" y1="623.8" x2="1475.9" y2="982.1" stroke="#DCE1EC" stroke-width="1.2"/>
<path d="M1096.5,982.1V623.2H1251.6V982.1" fill="none" stroke="#9a9a9a" stroke-width="1.2"/>
<line x1="876.5" y1="623.8" x2="876.5" y2="982.1" stroke="#000" stroke-width="1.3"/>
<line x1="875.9" y1="982.1" x2="1492" y2="982.1" stroke="#000" stroke-width="1.3"/>
<line x1="1095.9" y1="982.1" x2="1252.2" y2="982.1" stroke="#555" stroke-width="1.4"/>
<path d="M876.4,701C876.83,702.85 878.05,707.23 879,712.1C879.95,716.97 881.08,723.17 882.1,730.2C883.12,737.23 884.1,747.6 885.1,754.3C886.1,761 886.93,765.03 888.1,770.4C889.27,775.77 890.77,781.98 892.1,786.5C893.43,791.02 894.6,794.83 896.1,797.5C897.6,800.17 899.58,800.82 901.1,802.5C902.62,804.18 904.02,805.25 905.2,807.6C906.38,809.95 907.2,812.75 908.2,816.6C909.2,820.45 910.03,827.52 911.2,830.7C912.37,833.88 913.7,834.37 915.2,835.7C916.7,837.03 918.85,837.2 920.2,838.7C921.55,840.2 922.12,841.68 923.3,844.7C924.48,847.72 926.13,853.45 927.3,856.8C928.47,860.15 929.13,863.53 930.3,864.8C931.47,866.07 932.97,864.4 934.3,864.4C935.63,864.4 937.13,863.72 938.3,864.8C939.47,865.88 940.28,867.88 941.3,870.9C942.32,873.92 943.38,879.88 944.4,882.9C945.42,885.92 946.4,888.33 947.4,889C948.4,889.67 949.23,888.42 950.4,886.9C951.57,885.38 953.4,880.9 954.4,879.9C955.4,878.9 955.5,878.42 956.4,880.9C957.3,883.38 958.42,890.88 959.8,894.8C961.18,898.72 963.28,904 964.7,904.4C966.12,904.8 967,899.7 968.3,897.2C969.6,894.7 971.1,890 972.5,889.4C973.9,888.8 975.6,891.1 976.7,893.6C977.8,896.1 978.2,901.28 979.1,904.4C980,907.52 980.88,912.5 982.1,912.3C983.32,912.1 985.08,906.22 986.4,903.2C987.72,900.18 988.8,894.8 990,894.2C991.2,893.6 992.4,897.08 993.6,899.6C994.8,902.12 996.1,906.98 997.2,909.3C998.3,911.62 999.18,914.1 1000.2,913.5C1001.22,912.9 1002.28,908.62 1003.3,905.7C1004.32,902.78 1005.4,897.92 1006.3,896C1007.2,894.08 1007.7,893.6 1008.7,894.2C1009.7,894.8 1011.2,896.98 1012.3,899.6C1013.4,902.22 1014.4,907.98 1015.3,909.9C1016.2,911.82 1016.68,912.22 1017.7,911.1C1018.72,909.98 1020.18,906.32 1021.4,903.2C1022.62,900.08 1024,894.65 1025,892.4C1026,890.15 1026.4,889.1 1027.4,889.7C1028.4,890.3 1029.8,893.33 1031,896C1032.2,898.67 1033.6,903.88 1034.6,905.7C1035.6,907.52 1036.08,908.32 1037,906.9C1037.92,905.48 1039.08,900.32 1040.1,897.2C1041.12,894.08 1042.1,890.22 1043.1,888.2C1044.1,886.18 1045.1,884.7 1046.1,885.1C1047.1,885.5 1048.2,888.58 1049.1,890.6C1050,892.62 1050.5,896.3 1051.5,897.2C1052.5,898.1 1053.88,897.92 1055.1,896C1056.32,894.08 1057.58,888.35 1058.8,885.7C1060.02,883.05 1061.2,880.4 1062.4,880.1C1063.6,879.8 1064.7,882.35 1066,883.9C1067.3,885.45 1068.9,889.2 1070.2,889.4C1071.5,889.6 1072.7,886.82 1073.8,885.1C1074.9,883.38 1075.68,880.67 1076.8,879.1C1077.92,877.53 1079.28,875.7 1080.5,875.7C1081.72,875.7 1082.9,877.93 1084.1,879.1C1085.3,880.27 1086.5,882 1087.7,882.7C1088.9,883.4 1090.1,883.9 1091.3,883.3C1092.5,882.7 1093.48,880.5 1094.9,879.1C1096.32,877.7 1098.38,875.2 1099.8,874.9C1101.22,874.6 1102.2,876.4 1103.4,877.3C1104.6,878.2 1105.8,880 1107,880.3C1108.2,880.6 1109.4,880.2 1110.6,879.1C1111.8,878 1112.98,875.07 1114.2,873.7C1115.42,872.33 1116.58,871 1117.9,870.9C1119.22,870.8 1120.83,872.27 1122.1,873.1C1123.37,873.93 1124.52,875.32 1125.5,875.9C1126.48,876.48 1126.88,877.03 1128,876.6C1129.12,876.17 1130.68,874.4 1132.2,873.3C1133.72,872.2 1135.68,870.5 1137.1,870C1138.52,869.5 1139.3,869.45 1140.7,870.3C1142.1,871.15 1144.1,874.5 1145.5,875.1C1146.9,875.7 1147.78,875 1149.1,873.9C1150.42,872.8 1152.15,869.83 1153.4,868.5C1154.65,867.17 1155.4,865.9 1156.6,865.9C1157.8,865.9 1159.23,867.77 1160.6,868.5C1161.97,869.23 1163.4,870.6 1164.8,870.3C1166.2,870 1167.58,867.7 1169,866.7C1170.42,865.7 1171.88,864.6 1173.3,864.3C1174.72,864 1176.1,864.37 1177.5,864.9C1178.9,865.43 1180.2,867.17 1181.7,867.5C1183.2,867.83 1184.88,867.53 1186.5,866.9C1188.12,866.27 1189.88,864.43 1191.4,863.7C1192.92,862.97 1194.2,862.4 1195.6,862.5C1197,862.6 1198.4,863.93 1199.8,864.3C1201.2,864.67 1202.5,864.97 1204,864.7C1205.5,864.43 1207.18,863.22 1208.8,862.7C1210.42,862.18 1212.28,861.43 1213.7,861.6C1215.12,861.77 1216,862.45 1217.3,863.7C1218.6,864.95 1220.2,868.5 1221.5,869.1C1222.8,869.7 1223.78,867.9 1225.1,867.3C1226.42,866.7 1228.08,865.4 1229.4,865.5C1230.72,865.6 1231.8,866.8 1233,867.9C1234.2,869 1235.5,871.3 1236.6,872.1C1237.7,872.9 1238.4,873.1 1239.6,872.7C1240.8,872.3 1242.38,870.73 1243.8,869.7C1245.22,868.67 1246.78,866.8 1248.1,866.5C1249.42,866.2 1250.5,867.07 1251.7,867.9C1252.9,868.73 1254.1,870.6 1255.3,871.5C1256.5,872.4 1257.7,873.5 1258.9,873.3C1260.1,873.1 1261.18,871.7 1262.5,870.3C1263.82,868.9 1265.48,866 1266.8,864.9C1268.12,863.8 1269.2,863.2 1270.4,863.7C1271.6,864.2 1272.9,866.8 1274,867.9C1275.1,869 1275.9,870.5 1277,870.3C1278.1,870.1 1279.4,868.7 1280.6,866.7C1281.8,864.7 1283.08,860.52 1284.2,858.3C1285.32,856.08 1286.28,853.92 1287.3,853.4C1288.32,852.88 1289.2,853.98 1290.3,855.2C1291.4,856.42 1292.87,859.47 1293.9,860.7C1294.93,861.93 1295.72,862.78 1296.5,862.6C1297.28,862.42 1297.65,861.12 1298.6,859.6C1299.55,858.08 1300.98,855.12 1302.2,853.5C1303.42,851.88 1304.78,850.3 1305.9,849.9C1307.02,849.5 1307.8,849.68 1308.9,851.1C1310,852.52 1311.2,856.48 1312.5,858.4C1313.8,860.32 1315.3,862.72 1316.7,862.6C1318.1,862.48 1319.48,859.22 1320.9,857.7C1322.32,856.18 1323.98,853.28 1325.2,853.5C1326.42,853.72 1327.2,856.48 1328.2,859C1329.2,861.52 1330.1,865.83 1331.2,868.6C1332.3,871.37 1333.7,875.1 1334.8,875.6C1335.9,876.1 1336.7,873.2 1337.8,871.6C1338.9,870 1340.28,866.5 1341.4,866C1342.52,865.5 1343.58,866.75 1344.5,868.6C1345.42,870.45 1346.1,873.68 1346.9,877.1C1347.7,880.52 1348.5,885.78 1349.3,889.1C1350.1,892.42 1350.8,896.4 1351.7,897C1352.6,897.6 1353.7,894.82 1354.7,892.7C1355.7,890.58 1356.8,886.8 1357.7,884.3C1358.6,881.8 1359.28,878.3 1360.1,877.7C1360.92,877.1 1361.78,878.8 1362.6,880.7C1363.42,882.6 1364.1,885.68 1365,889.1C1365.9,892.52 1367,897.38 1368,901.2C1369,905.02 1370.1,911.4 1371,912C1371.9,912.6 1372.4,908.62 1373.4,904.8C1374.4,900.98 1375.78,892.42 1377,889.1C1378.22,885.78 1379.58,883.9 1380.7,884.9C1381.82,885.9 1382.7,892.08 1383.7,895.1C1384.7,898.12 1385.6,902.18 1386.7,903C1387.8,903.82 1389.2,902.32 1390.3,900C1391.4,897.68 1392.3,892.72 1393.3,889.1C1394.3,885.48 1395.18,880.52 1396.3,878.3C1397.42,876.08 1398.88,875 1400,875.8C1401.12,876.6 1402,880.92 1403,883.1C1404,885.28 1405,888.7 1406,888.9C1407,889.1 1408,887.08 1409,884.3C1410,881.52 1410.9,875.82 1412,872.2C1413.1,868.58 1414.18,864.2 1415.6,862.6C1417.02,861 1418.88,863.03 1420.5,862.6C1422.12,862.17 1424,862.1 1425.3,860C1426.6,857.9 1427.08,853.52 1428.3,850C1429.52,846.48 1430.47,841.8 1432.6,838.9C1434.73,836 1438.98,835.22 1441.1,832.6C1443.22,829.98 1443.55,827.23 1445.3,823.2C1447.05,819.17 1449.33,813.15 1451.6,808.4C1453.87,803.65 1456.8,799.25 1458.9,794.7C1461,790.15 1462.27,786.18 1464.2,781.1C1466.13,776.02 1468.57,770.17 1470.5,764.2C1472.43,758.23 1474.03,751.97 1475.8,745.3C1477.57,738.63 1479.52,730.87 1481.1,724.2C1482.68,717.53 1484.08,712.32 1485.3,705.3C1486.52,698.28 1487.47,688.95 1488.4,682.1C1489.33,675.25 1490.48,667.18 1490.9,664.2" fill="none" stroke="#111" stroke-width="1.4" stroke-dasharray="4.6 3.6" stroke-linejoin="round"/>
<path d="M881.5,707.7C881.87,711.45 882.87,723.1 883.7,730.2C884.53,737.3 885.6,749.3 886.5,750.3C887.4,751.3 888.23,740.05 889.1,736.2C889.97,732.35 890.87,728.37 891.7,727.2C892.53,726.03 893.3,728.1 894.1,729.2C894.9,730.3 895.77,733.97 896.5,733.8C897.23,733.63 897.83,730.38 898.5,728.2C899.17,726.02 899.82,721.03 900.5,720.7C901.18,720.37 901.82,720.27 902.6,726.2C903.38,732.13 904.27,746.25 905.2,756.3C906.13,766.35 907.17,777.28 908.2,786.5C909.23,795.72 910.23,808.6 911.4,811.6C912.57,814.6 914.07,806.85 915.2,804.5C916.33,802.15 917.3,799.23 918.2,797.5C919.1,795.77 919.85,793.27 920.6,794.1C921.35,794.93 921.75,797.07 922.7,802.5C923.65,807.93 925.2,820.33 926.3,826.7C927.4,833.07 928.47,837.53 929.3,840.7C930.13,843.87 930.53,846.7 931.3,845.7C932.07,844.7 933,837.67 933.9,834.7C934.8,831.73 935.7,827.9 936.7,827.9C937.7,827.9 938.9,830.55 939.9,834.7C940.9,838.85 941.68,846.77 942.7,852.8C943.72,858.83 944.88,868.22 946,870.9C947.12,873.58 948.17,870.75 949.4,868.9C950.63,867.05 952.27,861.95 953.4,859.8C954.53,857.65 955.33,855.2 956.2,856C957.07,856.8 957.6,860.15 958.6,864.6C959.6,869.05 960.95,876.97 962.2,882.7C963.45,888.43 964.88,898.18 966.1,899C967.32,899.82 968.33,890.25 969.5,887.6C970.67,884.95 971.93,883.42 973.1,883.1C974.27,882.78 975.5,883.15 976.5,885.7C977.5,888.25 978.17,894.57 979.1,898.4C980.03,902.23 981.08,906.85 982.1,908.7C983.12,910.55 984.18,910 985.2,909.5C986.22,909 987.2,907.55 988.2,905.7C989.2,903.85 990.33,899.52 991.2,898.4C992.07,897.28 992.6,897.58 993.4,899C994.2,900.42 994.77,903.4 996,906.9C997.23,910.4 999.38,919 1000.8,920C1002.22,921 1003.28,914.93 1004.5,912.9C1005.72,910.87 1007,908.6 1008.1,907.8C1009.2,907 1010.1,907.05 1011.1,908.1C1012.1,909.15 1013.1,912.53 1014.1,914.1C1015.1,915.67 1016,917.3 1017.1,917.5C1018.2,917.7 1019.48,916.87 1020.7,915.3C1021.92,913.73 1023.33,909.7 1024.4,908.1C1025.47,906.5 1026,905.5 1027.1,905.7C1028.2,905.9 1029.65,908.3 1031,909.3C1032.35,910.3 1034,911.9 1035.2,911.7C1036.4,911.5 1037.18,910.02 1038.2,908.1C1039.22,906.18 1040.08,902.02 1041.3,900.2C1042.52,898.38 1043.9,897 1045.5,897.2C1047.1,897.4 1049.3,901.6 1050.9,901.4C1052.5,901.2 1053.78,898.3 1055.1,896C1056.42,893.7 1057.68,889.82 1058.8,887.6C1059.92,885.38 1060.6,883.12 1061.8,882.7C1063,882.28 1064.6,884.28 1066,885.1C1067.4,885.92 1068.9,888.8 1070.2,887.6C1071.5,886.4 1072.58,880.62 1073.8,877.9C1075.02,875.18 1076.28,872.8 1077.5,871.3C1078.72,869.8 1080,868.7 1081.1,868.9C1082.2,869.1 1083.2,871.43 1084.1,872.5C1085,873.57 1085.5,875.4 1086.5,875.3C1087.5,875.2 1088.9,873.78 1090.1,871.9C1091.3,870.02 1092.68,866.22 1093.7,864C1094.72,861.78 1094.98,858.9 1096.2,858.6C1097.42,858.3 1099.43,860.78 1101,862.2C1102.57,863.62 1104.3,867.5 1105.6,867.1C1106.9,866.7 1107.67,862.32 1108.8,859.8C1109.93,857.28 1111.18,853.85 1112.4,852C1113.62,850.15 1114.98,848.3 1116.1,848.7C1117.22,849.1 1118.1,852.75 1119.1,854.4C1120.1,856.05 1121.07,858.4 1122.1,858.6C1123.13,858.8 1124.32,857.27 1125.3,855.6C1126.28,853.93 1126.95,850.97 1128,848.6C1129.05,846.23 1130.38,842 1131.6,841.4C1132.82,840.8 1134.18,843.5 1135.3,845C1136.42,846.5 1137.3,849.03 1138.3,850.4C1139.3,851.77 1140.3,853.8 1141.3,853.2C1142.3,852.6 1143.2,849.17 1144.3,846.8C1145.4,844.43 1146.8,840.75 1147.9,839C1149,837.25 1149.88,835.7 1150.9,836.3C1151.92,836.9 1152.98,840.75 1154,842.6C1155.02,844.45 1156,846.4 1157,847.4C1158,848.4 1159,849.4 1160,848.6C1161,847.8 1162.1,844.92 1163,842.6C1163.9,840.28 1164.53,836.37 1165.4,834.7C1166.27,833.03 1167.2,832.3 1168.2,832.6C1169.2,832.9 1170.35,834.33 1171.4,836.5C1172.45,838.67 1173.63,843.62 1174.5,845.6C1175.37,847.58 1175.8,848.7 1176.6,848.4C1177.4,848.1 1178.25,845.98 1179.3,843.8C1180.35,841.62 1181.8,837.42 1182.9,835.3C1184,833.18 1185,831.1 1185.9,831.1C1186.8,831.1 1187.38,833.28 1188.3,835.3C1189.22,837.32 1190.18,841.28 1191.4,843.2C1192.62,845.12 1194.4,847.1 1195.6,846.8C1196.8,846.5 1197.7,843.22 1198.6,841.4C1199.5,839.58 1200.2,836.97 1201,835.9C1201.8,834.83 1202.5,834.58 1203.4,835C1204.3,835.42 1205.4,836.33 1206.4,838.4C1207.4,840.47 1208.45,845.25 1209.4,847.4C1210.35,849.55 1211.08,851.3 1212.1,851.3C1213.12,851.3 1214.33,849.67 1215.5,847.4C1216.67,845.13 1218.03,839.95 1219.1,837.7C1220.17,835.45 1220.9,833.68 1221.9,833.9C1222.9,834.12 1224.07,836.95 1225.1,839C1226.13,841.05 1227.13,844.3 1228.1,846.2C1229.07,848.1 1229.98,850.8 1230.9,850.4C1231.82,850 1232.65,846.62 1233.6,843.8C1234.55,840.98 1235.43,836.18 1236.6,833.5C1237.77,830.82 1239.5,827.6 1240.6,827.7C1241.7,827.8 1242.37,831.62 1243.2,834.1C1244.03,836.58 1244.68,840.62 1245.6,842.6C1246.52,844.58 1247.68,845.7 1248.7,846C1249.72,846.3 1250.8,846.18 1251.7,844.4C1252.6,842.62 1253.27,837.78 1254.1,835.3C1254.93,832.82 1255.8,829.8 1256.7,829.5C1257.6,829.2 1258.53,831.42 1259.5,833.5C1260.47,835.58 1261.35,838.83 1262.5,842C1263.65,845.17 1265.18,852 1266.4,852.5C1267.62,853 1268.73,847.02 1269.8,845C1270.87,842.98 1271.83,841.35 1272.8,840.4C1273.77,839.45 1274.7,838.73 1275.6,839.3C1276.5,839.87 1277.27,841.75 1278.2,843.8C1279.13,845.85 1280.1,849.75 1281.2,851.6C1282.3,853.45 1283.68,854.8 1284.8,854.9C1285.92,855 1286.83,853.15 1287.9,852.2C1288.97,851.25 1290.2,849.2 1291.2,849.2C1292.2,849.2 1292.85,850.68 1293.9,852.2C1294.95,853.72 1296.32,856.32 1297.5,858.3C1298.68,860.28 1299.8,863.78 1301,864.1C1302.2,864.42 1303.48,861.22 1304.7,860.2C1305.92,859.18 1307.2,858.1 1308.3,858C1309.4,857.9 1310.3,858.03 1311.3,859.6C1312.3,861.17 1313.3,865.2 1314.3,867.4C1315.3,869.6 1316.3,871.65 1317.3,872.8C1318.3,873.95 1319.18,874.8 1320.3,874.3C1321.42,873.8 1322.98,870.92 1324,869.8C1325.02,868.68 1325.5,867 1326.4,867.6C1327.3,868.2 1328.4,871.02 1329.4,873.4C1330.4,875.78 1331.3,879.45 1332.4,881.9C1333.5,884.35 1334.9,887.8 1336,888.1C1337.1,888.4 1337.98,885.33 1339,883.7C1340.02,882.07 1341.08,879.3 1342.1,878.3C1343.12,877.3 1344.2,877.3 1345.1,877.7C1346,878.1 1346.8,878.2 1347.5,880.7C1348.2,883.2 1348.7,889.18 1349.3,892.7C1349.9,896.22 1350.5,900.05 1351.1,901.8C1351.7,903.55 1352.1,903.3 1352.9,903.2C1353.7,903.1 1355,902.75 1355.9,901.2C1356.8,899.65 1357.48,896.72 1358.3,893.9C1359.12,891.08 1360.08,886.4 1360.8,884.3C1361.52,882.2 1361.9,880.5 1362.6,881.3C1363.3,882.1 1364.2,885.98 1365,889.1C1365.8,892.22 1366.6,896.58 1367.4,900C1368.2,903.42 1369.17,907.5 1369.8,909.6C1370.43,911.7 1370.7,912.8 1371.2,912.6C1371.7,912.4 1372.13,911.32 1372.8,908.4C1373.47,905.48 1374.4,898.72 1375.2,895.1C1376,891.48 1376.68,889 1377.6,886.7C1378.52,884.4 1379.88,881.7 1380.7,881.3C1381.52,880.9 1381.8,882 1382.5,884.3C1383.2,886.6 1384.17,892.48 1384.9,895.1C1385.63,897.72 1386.1,900.2 1386.9,900C1387.7,899.8 1388.83,896.72 1389.7,893.9C1390.57,891.08 1391.3,886.92 1392.1,883.1C1392.9,879.28 1393.7,873.82 1394.5,871C1395.3,868.18 1396.08,866.4 1396.9,866.2C1397.72,866 1398.48,867.98 1399.4,869.8C1400.32,871.62 1401.4,875.45 1402.4,877.1C1403.4,878.75 1404.6,880.32 1405.4,879.7C1406.2,879.08 1406.5,877.67 1407.2,873.4C1407.9,869.13 1408.7,859.22 1409.6,854.1C1410.5,848.98 1411.6,845.22 1412.6,842.7C1413.6,840.18 1414.68,838.7 1415.6,839C1416.52,839.3 1417.15,841.88 1418.1,844.5C1419.05,847.12 1420.28,854.75 1421.3,854.7C1422.32,854.65 1423.18,849.1 1424.2,844.2C1425.22,839.3 1426.35,831.27 1427.4,825.3C1428.45,819.33 1429.63,811.82 1430.5,808.4C1431.37,804.98 1431.72,804.45 1432.6,804.8C1433.48,805.15 1434.57,808.32 1435.8,810.5C1437.03,812.68 1438.85,818.25 1440,817.9C1441.15,817.55 1441.82,813.13 1442.7,808.4C1443.58,803.67 1444.35,795.82 1445.3,789.5C1446.25,783.18 1447.35,774.97 1448.4,770.5C1449.45,766.03 1450.65,762.7 1451.6,762.7C1452.55,762.7 1453.23,768.32 1454.1,770.5C1454.97,772.68 1455.82,776.15 1456.8,775.8C1457.78,775.45 1458.93,772.78 1460,768.4C1461.07,764.02 1462.15,755.82 1463.2,749.5C1464.25,743.18 1465.15,734.47 1466.3,730.5C1467.45,726.53 1468.93,725.87 1470.1,725.7C1471.27,725.53 1472.35,728.17 1473.3,729.5C1474.25,730.83 1475.03,734.58 1475.8,733.7C1476.57,732.82 1477.2,727.88 1477.9,724.2C1478.6,720.52 1479.37,714.48 1480,711.6C1480.63,708.72 1481.1,706.9 1481.7,706.9C1482.3,706.9 1482.83,708.72 1483.6,711.6C1484.37,714.48 1485.85,722.1 1486.3,724.2" fill="none" stroke="#111" stroke-width="1.5" stroke-linejoin="round"/>
<line x1="1319.8" y1="657.6" x2="1355.9" y2="657.6" stroke="#333" stroke-width="1.5"/>
<line x1="1319.8" y1="719.8" x2="1353" y2="719.8" stroke="#333" stroke-width="1.5" stroke-dasharray="5.2 4.1"/>
<text x="1358.4" y="664" font-size="18.8" text-anchor="start" font-weight="normal" fill="#44546A" >Chain 1</text>
<text x="1358.4" y="726" font-size="18.8" text-anchor="start" font-weight="normal" fill="#44546A" >Chain 2</text>
<text x="858.9" y="629.4" font-size="19" text-anchor="end" font-weight="normal" fill="#000" >7.2</text>
<text x="858.9" y="680.6" font-size="19" text-anchor="end" font-weight="normal" fill="#000" >6.2</text>
<text x="858.9" y="731.8" font-size="19" text-anchor="end" font-weight="normal" fill="#000" >5.2</text>
<text x="858.9" y="783" font-size="19" text-anchor="end" font-weight="normal" fill="#000" >4.2</text>
<text x="858.9" y="834.2" font-size="19" text-anchor="end" font-weight="normal" fill="#000" >3.2</text>
<text x="858.9" y="885.4" font-size="19" text-anchor="end" font-weight="normal" fill="#000" >2.2</text>
<text x="858.9" y="936.6" font-size="19" text-anchor="end" font-weight="normal" fill="#000" >1.2</text>
<text x="858.9" y="987.8" font-size="19" text-anchor="end" font-weight="normal" fill="#000" >0.2</text>
<text x="876.5" y="1010.9" font-size="19" text-anchor="middle" font-weight="normal" fill="#000" >19</text>
<text x="976.4" y="1010.9" font-size="19" text-anchor="middle" font-weight="normal" fill="#000" >39</text>
<text x="1076.3" y="1010.9" font-size="19" text-anchor="middle" font-weight="normal" fill="#000" >59</text>
<text x="1176.2" y="1010.9" font-size="19" text-anchor="middle" font-weight="normal" fill="#000" >79</text>
<text x="1276.1" y="1010.9" font-size="19" text-anchor="middle" font-weight="normal" fill="#000" >99</text>
<text x="1376" y="1010.9" font-size="19" text-anchor="middle" font-weight="normal" fill="#000" >119</text>
<text x="1475.9" y="1010.9" font-size="19" text-anchor="middle" font-weight="normal" fill="#000" >139</text>
<text x="1184.3" y="1043.1" font-size="24.92" text-anchor="middle" font-weight="bold" fill="#000" >Residue Number</text>
<text transform="translate(823.4,803.5) rotate(-90)" font-size="25.0" text-anchor="middle" font-weight="bold" xml:space="preserve" style="white-space:pre">Cα RMSF</text>
<text x="873.4" y="608.4" font-size="46.5" text-anchor="start" font-weight="bold" fill="#000" >d</text>
</svg>
</body></html>
